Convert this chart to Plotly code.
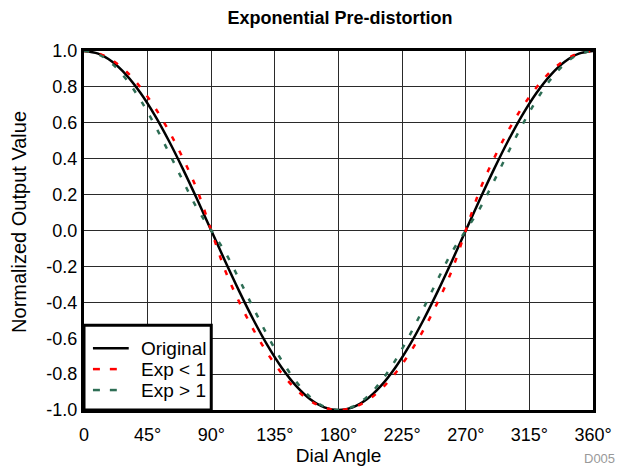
import plotly.graph_objects as go

angles = [0, 10, 20, 30, 40, 50, 60, 70, 80, 90, 100, 110, 120, 130, 140, 150, 160, 170, 180,
          190, 200, 210, 220, 230, 240, 250, 260, 270, 280, 290, 300, 310, 320, 330, 340, 350, 360]

original = [1.0, 0.985, 0.940, 0.866, 0.766, 0.643, 0.500, 0.342, 0.174, 0.0,
            -0.174, -0.342, -0.500, -0.643, -0.766, -0.866, -0.940, -0.985, -1.0,
            -0.985, -0.940, -0.866, -0.766, -0.643, -0.500, -0.342, -0.174, 0.0,
            0.174, 0.342, 0.500, 0.643, 0.766, 0.866, 0.940, 0.985, 1.0]

exp_lt1 = [1.0, 0.987, 0.949, 0.885, 0.797, 0.687, 0.555, 0.402, 0.226, 0.0,
           -0.226, -0.402, -0.555, -0.687, -0.797, -0.885, -0.949, -0.987, -1.0,
           -0.987, -0.949, -0.885, -0.797, -0.687, -0.555, -0.402, -0.226, 0.0,
           0.226, 0.402, 0.555, 0.687, 0.797, 0.885, 0.949, 0.987, 1.0]

exp_gt1 = [1.0, 0.982, 0.928, 0.841, 0.726, 0.588, 0.435, 0.276, 0.123, 0.0,
           -0.123, -0.276, -0.435, -0.588, -0.726, -0.841, -0.928, -0.982, -1.0,
           -0.982, -0.928, -0.841, -0.726, -0.588, -0.435, -0.276, -0.123, 0.0,
           0.123, 0.276, 0.435, 0.588, 0.726, 0.841, 0.928, 0.982, 1.0]

series_names = ["Original", "Exp < 1", "Exp > 1"]
series_colors = ["black", "#FF0000", "#2E6E55"]
series_dash = ["solid", "5px,11px", "5px,11px"]

x_tickvals = [0, 45, 90, 135, 180, 225, 270, 315, 360]
x_ticktext = ["0", "45°", "90°", "135°", "180°", "225°", "270°", "315°", "360°"]
y_tickvals = [1.0, 0.8, 0.6, 0.4, 0.2, 0.0, -0.2, -0.4, -0.6, -0.8, -1.0]
y_ticktext = ["1.0", "0.8", "0.6", "0.4", "0.2", "0.0", "-0.2", "-0.4", "-0.6", "-0.8", "-1.0"]

FONT = "Liberation Sans, Arial, sans-serif"

fig = go.Figure()
for name, ys, col, dsh in zip(series_names, [original, exp_lt1, exp_gt1], series_colors, series_dash):
    fig.add_trace(go.Scatter(x=angles, y=ys, mode="lines", name=name, showlegend=False,
                             line=dict(color=col, width=2.5, dash=dsh, shape="spline")))

# Manual legend box (plot area: 512 x 360 px)
PW, PH = 512.0, 360.0
fig.add_shape(type="rect", xref="paper", yref="paper",
              x0=0, x1=128 / PW, y0=0, y1=85 / PH,
              fillcolor="white", line=dict(color="black", width=3), layer="above")
rows = [62, 41, 20]  # px above bottom of plot area
for name, col, dsh, r in zip(series_names, series_colors, series_dash, rows):
    if dsh == "solid":
        segs = [(9, 45)]
    else:
        segs = [(9, 16), (26, 33)]
    for a, b in segs:
        fig.add_shape(type="line", xref="paper", yref="paper",
                      x0=a / PW, x1=b / PW, y0=r / PH, y1=r / PH,
                      line=dict(color=col, width=2.5), layer="above")
    fig.add_annotation(text=name, xref="paper", yref="paper", x=55 / PW, y=r / PH,
                       xanchor="left", yanchor="middle", showarrow=False,
                       font=dict(size=19, family=FONT, color="black"))

fig.update_layout(
    width=624, height=470,
    margin=dict(l=84, r=28, t=51, b=59),
    paper_bgcolor="white", plot_bgcolor="white",
    font=dict(family=FONT, size=18, color="black"),
    title=dict(text="<b>Exponential Pre-distortion</b>", x=340/624, xanchor="center",
               y=1 - 18/470, yanchor="middle", font=dict(size=18, family=FONT)),
    showlegend=False,
    xaxis=dict(range=[0, 360], tickvals=x_tickvals, ticktext=x_ticktext,
               showgrid=True, gridcolor="#2a2a2a", gridwidth=1,
               showline=True, linecolor="black", linewidth=3, mirror=True,
               ticks="", zeroline=False, tickfont=dict(size=18),
               ticklabelstandoff=6,
               title=dict(text="Dial Angle", font=dict(size=19), standoff=0)),
    yaxis=dict(range=[-1, 1], tickvals=y_tickvals, ticktext=y_ticktext,
               showgrid=True, gridcolor="#2a2a2a", gridwidth=1,
               showline=True, linecolor="black", linewidth=3, mirror=True,
               ticks="", zeroline=False, tickfont=dict(size=18)),
)

# Y axis title placed as rotated text
fig.add_annotation(text="Normalized Output Value", xref="paper", yref="paper",
                   x=(18 - 84) / PW, y=(411 - 222) / PH, xanchor="center", yanchor="middle",
                   textangle=-90, showarrow=False, font=dict(size=20, family=FONT, color="black"))

fig.add_annotation(text="D005", x=1, y=0, xref="paper", yref="paper",
                   xanchor="right", yanchor="bottom", xshift=24, yshift=-58,
                   showarrow=False, font=dict(size=13, color="#999999", family=FONT))

fig.write_html("out.html")
